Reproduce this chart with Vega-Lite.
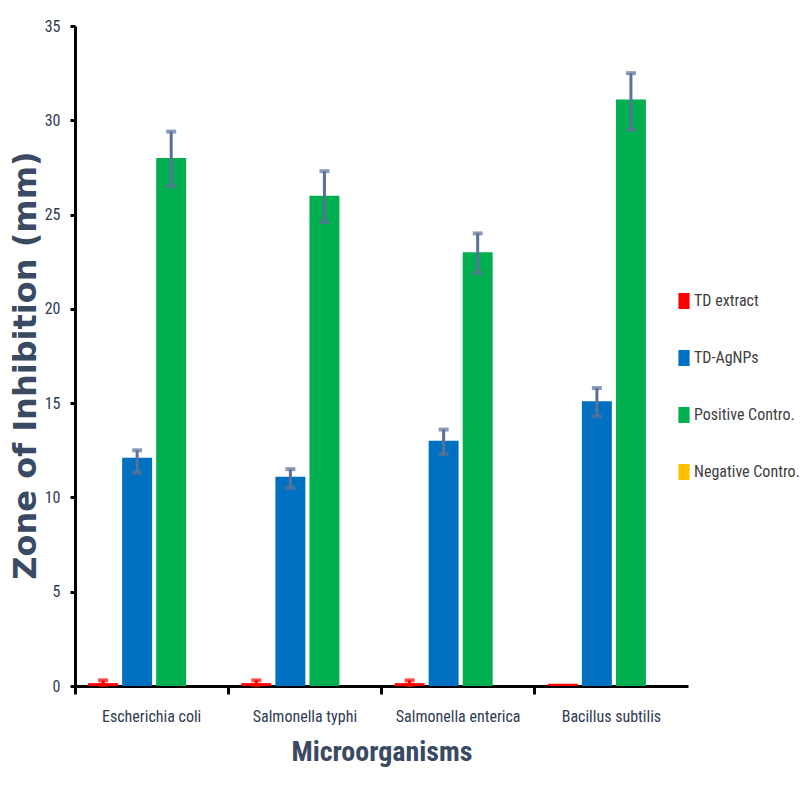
{
  "$schema": "https://vega.github.io/schema/vega-lite/v6.json",
  "width": 613,
  "height": 660,
  "autosize": {"type": "none"},
  "padding": {"left": 75, "top": 26, "right": 121, "bottom": 119},
  "background": "white",
  "config": {"view": {"stroke": null}, "axis": {"grid": false}},
  "data": {
    "values": [
      {"organism": "Escherichia coli", "series": "TD extract", "value": 0.15, "lo": 0.05, "hi": 0.3},
      {"organism": "Escherichia coli", "series": "TD-AgNPs", "value": 12.1, "lo": 11.3, "hi": 12.5},
      {"organism": "Escherichia coli", "series": "Positive Contro.", "value": 28.0, "lo": 26.5, "hi": 29.4},
      {"organism": "Escherichia coli", "series": "Negative Contro.", "value": 0, "lo": null, "hi": null},
      {"organism": "Salmonella typhi", "series": "TD extract", "value": 0.15, "lo": 0.05, "hi": 0.3},
      {"organism": "Salmonella typhi", "series": "TD-AgNPs", "value": 11.1, "lo": 10.5, "hi": 11.5},
      {"organism": "Salmonella typhi", "series": "Positive Contro.", "value": 26.0, "lo": 24.6, "hi": 27.3},
      {"organism": "Salmonella typhi", "series": "Negative Contro.", "value": 0, "lo": null, "hi": null},
      {"organism": "Salmonella enterica", "series": "TD extract", "value": 0.15, "lo": 0.05, "hi": 0.3},
      {"organism": "Salmonella enterica", "series": "TD-AgNPs", "value": 13.0, "lo": 12.3, "hi": 13.6},
      {"organism": "Salmonella enterica", "series": "Positive Contro.", "value": 23.0, "lo": 21.9, "hi": 24.0},
      {"organism": "Salmonella enterica", "series": "Negative Contro.", "value": 0, "lo": null, "hi": null},
      {"organism": "Bacillus subtilis", "series": "TD extract", "value": 0.12, "lo": null, "hi": null},
      {"organism": "Bacillus subtilis", "series": "TD-AgNPs", "value": 15.1, "lo": 14.3, "hi": 15.8},
      {"organism": "Bacillus subtilis", "series": "Positive Contro.", "value": 31.1, "lo": 29.5, "hi": 32.5},
      {"organism": "Bacillus subtilis", "series": "Negative Contro.", "value": 0, "lo": null, "hi": null}
    ]
  },
  "encoding": {
    "x": {
      "field": "organism",
      "type": "nominal",
      "sort": ["Escherichia coli", "Salmonella typhi", "Salmonella enterica", "Bacillus subtilis"],
      "scale": {"paddingInner": 0, "paddingOuter": 0},
      "axis": {
        "title": "Microorganisms",
        "titleFont": "Liberation Sans Narrow, Roboto Condensed, Arial Narrow, sans-serif",
        "titleFontSize": 28,
        "titleFontWeight": "bold",
        "titleColor": "#3b4a63",
        "titleBaseline": "alphabetic",
        "titleY": 74,
        "labelAngle": 0,
        "labelFont": "Liberation Sans Narrow, Roboto Condensed, Arial Narrow, sans-serif",
        "labelFontSize": 16,
        "labelColor": "#2f3b52",
        "labelPadding": 14,
        "bandPosition": 0,
        "domainColor": "black",
        "domainWidth": 3,
        "tickColor": "black",
        "tickWidth": 3,
        "tickSize": 8
      }
    },
    "xOffset": {
      "field": "series",
      "sort": ["TD extract", "TD-AgNPs", "Positive Contro.", "Negative Contro."],
      "scale": {"paddingInner": 0.12, "paddingOuter": 0.31, "align": 0.62}
    }
  },
  "layer": [
    {
      "mark": {"type": "bar"},
      "encoding": {
        "y": {
          "field": "value",
          "type": "quantitative",
          "scale": {"domain": [0, 35], "nice": false},
          "axis": {
            "values": [0, 5, 10, 15, 20, 25, 30, 35],
            "title": "Zone of Inhibition (mm)",
            "titleFont": "DejaVu Sans",
            "titleFontSize": 32,
            "titleFontWeight": "bold",
            "titleColor": "#3b4a63",
            "titleAngle": -90,
            "titleBaseline": "alphabetic",
            "titleAlign": "center",
            "titleX": -40,
            "titleY": 339,
            "labelFont": "Liberation Sans Narrow, Roboto Condensed, Arial Narrow, sans-serif",
            "labelFontSize": 16,
            "labelColor": "#2f3b52",
            "labelPadding": 10,
            "domainColor": "black",
            "domainWidth": 3,
            "tickColor": "black",
            "tickWidth": 3,
            "tickSize": 5
          }
        },
        "color": {
          "field": "series",
          "type": "nominal",
          "sort": ["TD extract", "TD-AgNPs", "Positive Contro.", "Negative Contro."],
          "scale": {
            "domain": ["TD extract", "TD-AgNPs", "Positive Contro.", "Negative Contro."],
            "range": ["#FF0000", "#0070C0", "#00B050", "#FFC000"]
          },
          "legend": {
            "orient": "none",
            "legendX": 601,
            "legendY": 267,
            "title": null,
            "symbolType": "M-0.7,-1L0.7,-1L0.7,1L-0.7,1Z",
            "symbolSize": 256,
            "symbolStrokeWidth": 0,
            "labelFont": "Liberation Sans Narrow, Roboto Condensed, Arial Narrow, sans-serif",
            "labelFontSize": 16,
            "labelColor": "#404040",
            "labelOffset": 2,
            "labelLimit": 120,
            "rowPadding": 41
          }
        }
      }
    },
    {
      "mark": {"type": "rule", "strokeWidth": 3},
      "encoding": {
        "y": {"field": "lo", "type": "quantitative"},
        "y2": {"field": "hi"},
        "color": {"condition": {"test": "datum.series === 'TD extract'", "value": "#FF0000"}, "value": "#5b7096"}
      }
    },
    {
      "mark": {"type": "tick", "thickness": 4, "size": 10},
      "encoding": {
        "y": {"field": "lo", "type": "quantitative"},
        "color": {"condition": {"test": "datum.series === 'TD extract'", "value": "#FF0000"}, "value": "#5b7096"}
      }
    },
    {
      "mark": {"type": "tick", "thickness": 4, "size": 10},
      "encoding": {
        "y": {"field": "hi", "type": "quantitative"},
        "color": {"condition": {"test": "datum.series === 'TD extract'", "value": "#FF0000"}, "value": "#5b7096"}
      }
    }
  ]
}
